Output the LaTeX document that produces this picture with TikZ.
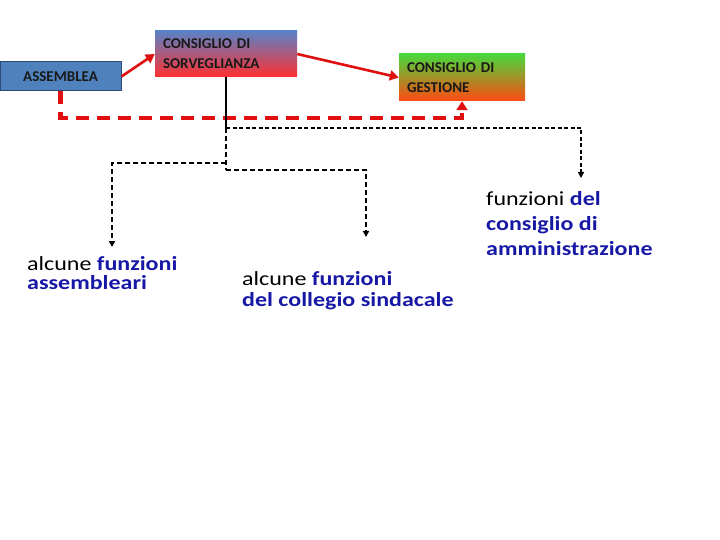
\documentclass[tikz,border=0pt]{standalone}
\usepackage{fontspec}
\setmainfont{Carlito}
\newfontfamily\widefont[FakeStretch=1.2]{Carlito}
\usetikzlibrary{arrows.meta}
\definecolor{boxblue}{HTML}{4F81BD}
\definecolor{boxborder}{HTML}{2C4A78}
\definecolor{sorvtop}{HTML}{5A82C6}
\definecolor{sorvbot}{HTML}{FF3030}
\definecolor{gesttop}{HTML}{48D83C}
\definecolor{gestbot}{HTML}{FF4A12}
\definecolor{arrred}{HTML}{E01010}
\definecolor{txtblue}{HTML}{1818A6}
\tikzset{
  boxtxt/.style={font=\fontsize{15}{20}\selectfont\bfseries, text=black!90, inner sep=8pt, align=left},
  redarrow/.style={draw=arrred, line width=2.6pt, -{Triangle[width=10pt,length=9pt]}},
  reddash/.style={draw=arrred, line width=4.2pt, dash pattern=on 13pt off 8pt, -{Triangle[width=11pt,length=9pt]}},
  blk/.style={draw=black, line width=1.8pt},
  blkdash/.style={draw=black, line width=1.6pt, dash pattern=on 5pt off 3pt, -{Triangle[width=6pt,length=6pt]}},
  bigtxt/.style={inner sep=0pt, anchor=north west, align=left}
}
\newcommand{\bl}[1]{\textcolor{txtblue}{\bfseries #1}}
\begin{document}
\begin{tikzpicture}[x=1pt,y=-1pt]
\useasboundingbox (0,0) rectangle (720,540);
% boxes
\node[boxtxt, fill=boxblue, draw=boxborder, line width=1pt, minimum width=121pt, minimum height=29pt, align=center] (ass) at (60.5,76.5) {ASSEMBLEA};
\node[boxtxt, top color=sorvtop, bottom color=sorvbot, minimum width=142pt, minimum height=46pt, text width=126pt] (sorv) at (226,54) {CONSIGLIO DI\\SORVEGLIANZA};
\node[boxtxt, top color=gesttop, bottom color=gestbot, minimum width=126pt, minimum height=47pt, text width=110pt] (gest) at (462,77.5) {CONSIGLIO DI\\GESTIONE};
% texts
\node[bigtxt, font=\widefont\fontsize{20}{19.5}\selectfont] (ta) at (27,256) {alcune \bl{funzioni}\\\bl{assembleari}};
\node[bigtxt, font=\widefont\fontsize{20}{21}\selectfont] (tb) at (242,271) {alcune \bl{funzioni}\\\bl{del collegio sindacale}};
\node[bigtxt, font=\widefont\fontsize{20}{25}\selectfont] (tc) at (486,191) {funzioni \bl{del}\\\bl{consiglio di}\\\bl{amministrazione}};
% coordinates
\coordinate (rdc) at (462,118);
\coordinate (j1) at (226,128);
\coordinate (j2) at (226,163);
\coordinate (j3) at (226,170);
\coordinate (ca) at (112,163);
\coordinate (cb) at (366,170);
\coordinate (cc) at (581,128);
% red connectors
\draw[redarrow] (ass.east) -- (sorv.west);
\draw[redarrow] (sorv.east) -- (gest.west);
\draw[reddash] (ass.south) |- (rdc) -- (gest.south);
% black connectors
\draw[blk] (sorv.south) -- (j1);
\draw[blkdash, -] (j1) -- (j3);
\draw[blkdash, line width=1.4pt, dash pattern=on 4pt off 2.5pt] (j1) -- (cc) -- ([yshift=13pt]cc |- tc.north);
\draw[blkdash] (j2) -- (ca) -- ([yshift=9pt]ca |- ta.north);
\draw[blkdash] (j3) -- (cb) -- ([yshift=34pt]cb |- tb.north);
\end{tikzpicture}
\end{document}
